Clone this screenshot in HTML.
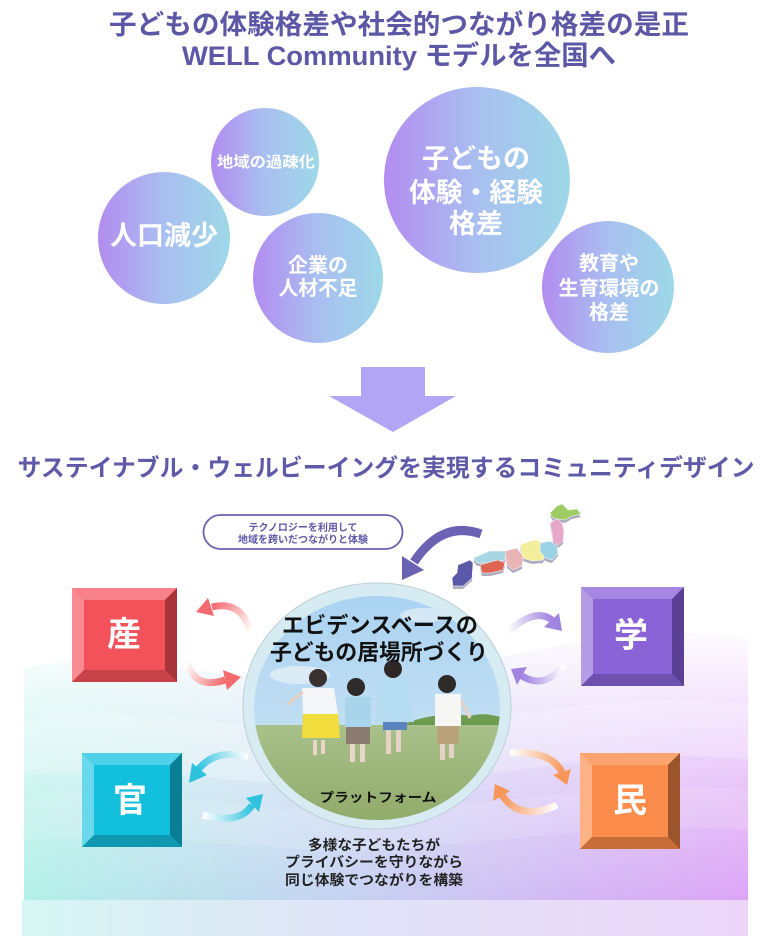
<!DOCTYPE html>
<html><head><meta charset="utf-8">
<style>
html,body{margin:0;padding:0;background:#fff;}
svg{display:block;}
text{font-family:"Liberation Sans","Noto Sans CJK JP",sans-serif;font-weight:700;}
</style></head>
<body>
<svg width="768" height="936" viewBox="0 0 768 936" xmlns="http://www.w3.org/2000/svg">
<defs>
  <linearGradient id="cg" x1="0" y1="0" x2="1" y2="0">
    <stop offset="0" stop-color="#b28cf0"/>
    <stop offset="0.5" stop-color="#a9bff0"/>
    <stop offset="1" stop-color="#9dd8e8"/>
  </linearGradient>
  <linearGradient id="bgH" x1="0" y1="0" x2="1" y2="0">
    <stop offset="0" stop-color="#b2f0e8"/>
    <stop offset="0.45" stop-color="#c6d2f2"/>
    <stop offset="1" stop-color="#dda4f6"/>
  </linearGradient>
  <linearGradient id="bgV" x1="0" y1="0" x2="0" y2="1">
    <stop offset="0" stop-color="#fff" stop-opacity="1"/>
    <stop offset="0.25" stop-color="#fff" stop-opacity="0.75"/>
    <stop offset="0.6" stop-color="#fff" stop-opacity="0.35"/>
    <stop offset="1" stop-color="#fff" stop-opacity="0"/>
  </linearGradient>
  <linearGradient id="strip" x1="0" y1="0" x2="1" y2="0">
    <stop offset="0" stop-color="#d6f6f3"/>
    <stop offset="0.5" stop-color="#e2e2f8"/>
    <stop offset="1" stop-color="#ecd6f8"/>
  </linearGradient>
  <linearGradient id="sky" x1="0" y1="0" x2="0" y2="1">
    <stop offset="0" stop-color="#a9d2f2"/>
    <stop offset="1" stop-color="#d4e8f4"/>
  </linearGradient>
  <linearGradient id="grass" x1="0" y1="0" x2="0" y2="1">
    <stop offset="0" stop-color="#a8c08a"/>
    <stop offset="1" stop-color="#8ea866"/>
  </linearGradient>
  <clipPath id="photo"><ellipse cx="377" cy="708" rx="123" ry="112"/></clipPath>
  <clipPath id="bgclip"><path d="M24,668 C120,648 240,690 384,676 C520,662 620,618 748,640 L748,900 L24,900 Z"/></clipPath>

  <linearGradient id="a1" gradientUnits="userSpaceOnUse" x1="250" y1="632" x2="212" y2="607"><stop offset="0" stop-color="#fff"/><stop offset="1" stop-color="#f46a6e"/></linearGradient>
  <linearGradient id="a2" gradientUnits="userSpaceOnUse" x1="187" y1="662" x2="225" y2="680"><stop offset="0" stop-color="#fff"/><stop offset="1" stop-color="#f46a6e"/></linearGradient>
  <linearGradient id="a3" gradientUnits="userSpaceOnUse" x1="248" y1="757" x2="198" y2="770"><stop offset="0" stop-color="#fff"/><stop offset="1" stop-color="#2ec2de"/></linearGradient>
  <linearGradient id="a4" gradientUnits="userSpaceOnUse" x1="203" y1="815" x2="252" y2="805"><stop offset="0" stop-color="#fff"/><stop offset="1" stop-color="#2ec2de"/></linearGradient>
  <linearGradient id="a5" gradientUnits="userSpaceOnUse" x1="508" y1="632" x2="552" y2="620"><stop offset="0" stop-color="#fff"/><stop offset="1" stop-color="#a184e0"/></linearGradient>
  <linearGradient id="a6" gradientUnits="userSpaceOnUse" x1="563" y1="665" x2="522" y2="676"><stop offset="0" stop-color="#fff"/><stop offset="1" stop-color="#a184e0"/></linearGradient>
  <linearGradient id="a7" gradientUnits="userSpaceOnUse" x1="510" y1="753" x2="562" y2="772"><stop offset="0" stop-color="#fff"/><stop offset="1" stop-color="#f8965a"/></linearGradient>
  <linearGradient id="a8" gradientUnits="userSpaceOnUse" x1="557" y1="805" x2="502" y2="795"><stop offset="0" stop-color="#fff"/><stop offset="1" stop-color="#f8965a"/></linearGradient>
</defs>

<!-- Titles -->
<text x="399" y="34" font-size="27" fill="#5c58a6" text-anchor="middle" textLength="580" lengthAdjust="spacingAndGlyphs">子どもの体験格差や社会的つながり格差の是正</text>
<text x="399" y="65" font-size="27" fill="#5c58a6" text-anchor="middle" textLength="434" lengthAdjust="spacingAndGlyphs">WELL Community モデルを全国へ</text>

<!-- Bubbles -->
<circle cx="265" cy="162" r="54" fill="url(#cg)"/>
<circle cx="164" cy="238" r="66" fill="url(#cg)"/>
<circle cx="318" cy="278" r="65" fill="url(#cg)"/>
<circle cx="477" cy="180" r="93" fill="url(#cg)"/>
<circle cx="608" cy="287" r="66" fill="url(#cg)"/>

<text x="266" y="167" font-size="15" fill="#fff" text-anchor="middle" textLength="98" lengthAdjust="spacingAndGlyphs">地域の過疎化</text>
<text x="164" y="245" font-size="27" fill="#fff" text-anchor="middle" textLength="108" lengthAdjust="spacingAndGlyphs">人口減少</text>
<text x="318" y="272" font-size="20" fill="#fff" text-anchor="middle">企業の</text>
<text x="318" y="295" font-size="20" fill="#fff" text-anchor="middle" textLength="79" lengthAdjust="spacingAndGlyphs">人材不足</text>
<text x="476" y="168" font-size="27" fill="#fff" text-anchor="middle">子どもの</text>
<text x="476" y="202" font-size="27" fill="#fff" text-anchor="middle" textLength="134" lengthAdjust="spacingAndGlyphs">体験・経験</text>
<text x="476" y="233" font-size="27" fill="#fff" text-anchor="middle">格差</text>
<text x="609" y="270" font-size="20" fill="#fff" text-anchor="middle">教育や</text>
<text x="609" y="295" font-size="20" fill="#fff" text-anchor="middle" textLength="101" lengthAdjust="spacingAndGlyphs">生育環境の</text>
<text x="609" y="319" font-size="20" fill="#fff" text-anchor="middle">格差</text>

<!-- Down arrow -->
<polygon points="361,367 425,367 425,396 456,396 393,432 329,396 361,396" fill="#b2a5f6"/>

<!-- Heading 2 -->
<text x="386" y="476" font-size="24" fill="#5f5aa8" text-anchor="middle" textLength="737" lengthAdjust="spacingAndGlyphs">サステイナブル・ウェルビーイングを実現するコミュニティデザイン</text>

<!-- Background -->
<g clip-path="url(#bgclip)">
  <rect x="24" y="620" width="724" height="280" fill="url(#bgH)"/>
  <rect x="24" y="620" width="724" height="280" fill="url(#bgV)"/>
  <path d="M24,720 C150,700 260,740 384,730 C520,718 620,690 748,705 L748,760 C620,745 520,775 384,785 C260,792 150,760 24,775 Z" fill="#fff" opacity="0.22"/>
  <path d="M24,800 C150,780 280,820 384,812 C520,800 640,780 748,790 L748,830 C640,820 520,840 384,850 C280,855 150,830 24,840 Z" fill="#fff" opacity="0.12"/>
</g>
<rect x="22" y="900" width="726" height="36" fill="url(#strip)"/>

<!-- Pill -->
<rect x="203.5" y="515" width="199" height="34" rx="17" ry="17" fill="#fff" stroke="#6a62b0" stroke-width="1.8"/>
<text x="303" y="531" font-size="10" fill="#5e58a5" text-anchor="middle">テクノロジーを利用して</text>
<text x="303" y="543" font-size="10" fill="#5e58a5" text-anchor="middle">地域を跨いだつながりと体験</text>

<!-- Purple curved arrow -->
<path d="M481,534 Q442,520 414,562" fill="none" stroke="#6b62b4" stroke-width="9"/>
<polygon points="402,580 402,556 424,570" fill="#6b62b4"/>

<!-- Japan map (shadow layer) -->
<g transform="translate(0,3)" fill="#6f6a8c" opacity="0.55">
  <polygon points="458,565 470,560 473,563 472,578 463,586 453,586 452,578 457,573"/>
  <polygon points="473,558 490,551 507,551 505,560 490,563 477,563"/>
  <polygon points="480,565 498,560 505,563 503,570 490,573 482,573"/>
  <polygon points="505,551 517,548 523,556 522,566 513,570 507,565"/>
  <polygon points="520,545 533,540 540,541 547,551 543,560 532,561 523,558"/>
  <polygon points="540,543 550,541 557,546 558,553 552,560 545,558 540,551"/>
  <polygon points="550,523 557,519 562,523 564,531 563,541 558,545 553,541 552,533"/>
  <polygon points="550,513 557,506 562,504 568,510 577,509 581,514 572,516 565,520 558,519 553,518"/>
</g>
<g stroke="#ffffff" stroke-width="0.5">
  <polygon points="458,565 470,560 473,563 472,578 463,586 453,586 452,578 457,573" fill="#5a58a8"/>
  <polygon points="473,558 490,551 507,551 505,560 490,563 477,563" fill="#a8d6e2"/>
  <polygon points="480,565 498,560 505,563 503,570 490,573 482,573" fill="#e06452"/>
  <polygon points="505,551 517,548 523,556 522,566 513,570 507,565" fill="#eab4b6"/>
  <polygon points="520,545 533,540 540,541 547,551 543,560 532,561 523,558" fill="#f2ee9c"/>
  <polygon points="540,543 550,541 557,546 558,553 552,560 545,558 540,551" fill="#9cd2e6"/>
  <polygon points="550,523 557,519 562,523 564,531 563,541 558,545 553,541 552,533" fill="#e8a6c8"/>
  <polygon points="550,513 557,506 562,504 568,510 577,509 581,514 572,516 565,520 558,519 553,518" fill="#9ccc62"/>
</g>

<!-- Boxes -->
<g>
  <rect x="72" y="588" width="105" height="94" fill="#f4525a"/>
  <polygon points="72,588 177,588 165,600 84,600" fill="#f88088"/>
  <polygon points="72,588 84,600 84,670 72,682" fill="#f98c92"/>
  <polygon points="177,588 177,682 165,670 165,600" fill="#a8343a"/>
  <polygon points="72,682 84,670 165,670 177,682" fill="#c8424a"/>
  <text x="124" y="646" font-size="34" fill="#fff" text-anchor="middle">産</text>
</g>
<g>
  <rect x="581" y="587" width="103" height="99" fill="#8a63d6"/>
  <polygon points="581,587 684,587 672,599 593,599" fill="#a688e2"/>
  <polygon points="581,587 593,599 593,674 581,686" fill="#b59ce6"/>
  <polygon points="684,587 684,686 672,674 672,599" fill="#5a3f94"/>
  <polygon points="581,686 593,674 672,674 684,686" fill="#6f50ae"/>
  <text x="631" y="647" font-size="34" fill="#fff" text-anchor="middle">学</text>
</g>
<g>
  <rect x="82" y="753" width="100" height="94" fill="#12bfdc"/>
  <polygon points="82,753 182,753 170,765 94,765" fill="#4ed0e8"/>
  <polygon points="82,753 94,765 94,835 82,847" fill="#6ad8ec"/>
  <polygon points="182,753 182,847 170,835 170,765" fill="#0a7e94"/>
  <polygon points="82,847 94,835 170,835 182,847" fill="#0f98b0"/>
  <text x="130" y="812" font-size="34" fill="#fff" text-anchor="middle">官</text>
</g>
<g>
  <rect x="580" y="753" width="100" height="96" fill="#fb8c4c"/>
  <polygon points="580,753 680,753 668,765 592,765" fill="#fca470"/>
  <polygon points="580,753 592,765 592,837 580,849" fill="#fcb286"/>
  <polygon points="680,753 680,849 668,837 668,765" fill="#9c552a"/>
  <polygon points="580,849 592,837 668,837 680,849" fill="#c86c38"/>
  <text x="630" y="812" font-size="34" fill="#fff" text-anchor="middle">民</text>
</g>

<!-- Small curved arrows -->
<g fill="none" stroke-width="7" stroke-linecap="butt">
  <path d="M250,632 Q242,600 212,607" stroke="url(#a1)"/>
  <path d="M187,662 Q195,690 225,680" stroke="url(#a2)"/>
  <path d="M248,757 Q215,748 198,770" stroke="url(#a3)"/>
  <path d="M203,815 Q240,825 252,805" stroke="url(#a4)"/>
  <path d="M508,632 Q535,607 552,620" stroke="url(#a5)"/>
  <path d="M563,665 Q545,690 522,676" stroke="url(#a6)"/>
  <path d="M510,753 Q550,750 562,772" stroke="url(#a7)"/>
  <path d="M557,805 Q520,822 502,795" stroke="url(#a8)"/>
</g>
<polygon points="196,612 208,598 214,616" fill="#f46a6e"/>
<polygon points="241,677 223,670 227,690" fill="#f46a6e"/>
<polygon points="189,783 192,763 207,775" fill="#2ec2de"/>
<polygon points="263,794 246,798 259,812" fill="#2ec2de"/>
<polygon points="562,631 559,613 544,627" fill="#a184e0"/>
<polygon points="511,669 527,667 517,685" fill="#a184e0"/>
<polygon points="567,785 571,769 553,775" fill="#f8965a"/>
<polygon points="495,784 510,791 493,801" fill="#f8965a"/>

<!-- Center circle -->
<ellipse cx="377" cy="706" rx="134" ry="123" fill="#d6ecf2" stroke="#bccdd6" stroke-width="1"/>
<g clip-path="url(#photo)">
  <rect x="250" y="590" width="260" height="240" fill="url(#sky)"/>
  <ellipse cx="300" cy="675" rx="30" ry="9" fill="#e4eff6" opacity="0.8"/>
  <ellipse cx="425" cy="615" rx="25" ry="7" fill="#e4eff6" opacity="0.7"/>
  <path d="M400,726 C420,716 450,712 470,716 C485,712 495,716 505,718 L505,735 L400,735 Z" fill="#6e9c52"/>
  <rect x="250" y="725" width="260" height="110" fill="url(#grass)"/>
  <!-- kid 1 -->
  <rect x="313" y="740" width="4" height="15" fill="#e8d6c8"/>
  <rect x="321" y="740" width="4" height="14" fill="#e8d6c8"/>
  <path d="M303,712 L338,712 L340,738 L302,738 Z" fill="#f0dc3c"/>
  <path d="M302,688 L334,688 L338,714 L303,714 Z" fill="#f4f6f8"/>
  <path d="M303,692 L288,704" stroke="#e8d0c0" stroke-width="3"/>
  <circle cx="318" cy="678" r="9" fill="#3a3030"/>
  <!-- kid 2 -->
  <rect x="350" y="742" width="5" height="20" fill="#e8d6c8"/>
  <rect x="360" y="742" width="5" height="20" fill="#e8d6c8"/>
  <rect x="346" y="725" width="24" height="19" fill="#8a7a70"/>
  <rect x="345" y="697" width="26" height="30" fill="#a8d4ec"/>
  <circle cx="356" cy="687" r="9" fill="#2e2a2a"/>
  <!-- kid 3 -->
  <rect x="386" y="728" width="5" height="26" fill="#e6d2c4"/>
  <rect x="396" y="728" width="5" height="24" fill="#e6d2c4"/>
  <rect x="383" y="718" width="24" height="12" fill="#5a84c0"/>
  <path d="M380,680 L406,680 L414,722 L376,722 Z" fill="#b6dcf2"/>
  <circle cx="393" cy="669" r="9" fill="#2e2626"/>
  <!-- kid 4 -->
  <rect x="440" y="742" width="5" height="18" fill="#e6d2c4"/>
  <rect x="449" y="742" width="5" height="16" fill="#e6d2c4"/>
  <rect x="437" y="724" width="22" height="20" fill="#b8a27a"/>
  <rect x="435" y="694" width="26" height="32" fill="#f6f6f4"/>
  <path d="M461,700 L470,718" stroke="#e6d2c4" stroke-width="3"/>
  <circle cx="447" cy="684" r="9" fill="#2e2a2a"/>
</g>
<text x="380" y="633" font-size="22" fill="#111" text-anchor="middle" textLength="196" lengthAdjust="spacingAndGlyphs">エビデンスベースの</text>
<text x="379" y="660" font-size="22" fill="#111" text-anchor="middle" textLength="218" lengthAdjust="spacingAndGlyphs">子どもの居場所づくり</text>
<text x="378" y="802" font-size="13" fill="#111" text-anchor="middle" textLength="117" lengthAdjust="spacingAndGlyphs">プラットフォーム</text>

<!-- Bottom text -->
<text x="374" y="850" font-size="14" fill="#222" text-anchor="middle" textLength="132" lengthAdjust="spacingAndGlyphs">多様な子どもたちが</text>
<text x="374" y="867" font-size="14" fill="#222" text-anchor="middle" textLength="178" lengthAdjust="spacingAndGlyphs">プライバシーを守りながら</text>
<text x="374" y="885" font-size="14" fill="#222" text-anchor="middle" textLength="178" lengthAdjust="spacingAndGlyphs">同じ体験でつながりを構築</text>
</svg>
</body></html>
